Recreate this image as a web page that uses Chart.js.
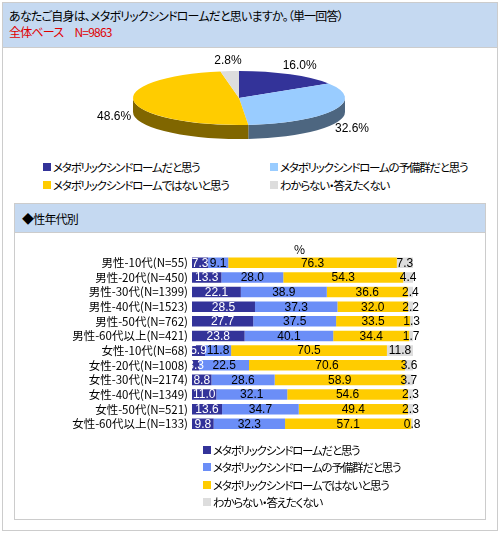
<!DOCTYPE html>
<html lang="ja">
<head>
<meta charset="utf-8">
<script src="https://cdn.jsdelivr.net/npm/chart.js@4.4.0/dist/chart.umd.min.js"></script>
<style>
  html, body { margin: 0; padding: 0; background: #fff; }
  body { width: 500px; height: 534px; position: relative; overflow: hidden;
         font-family: "Noto Sans CJK JP", sans-serif; font-size: 12px; color: #000;
         font-feature-settings: "palt"; }
  .abs { position: absolute; }
  .frame { left: 2px; top: 2px; width: 496px; height: 529px; border: 1px solid #ccc; box-sizing: border-box; }
  .band { background: #c5d9f1; border-bottom: 1px solid #ccc; box-sizing: border-box; }
  .txt { white-space: nowrap; line-height: 14px; }
  .head { letter-spacing: -0.8px; }
  .leg { font-size: 11.5px; letter-spacing: -1.2px; }
  .sq { width: 8px; height: 8px; }
</style>
</head>
<body>
<div class="abs frame"></div>
<div class="abs band" style="left:3px;top:3px;width:494px;height:45px;"></div>
<div class="abs txt head" id="title" style="left:9px;top:9px;"></div>
<div class="abs txt head" id="subtitle" style="left:9px;top:25px;color:#e00000;"></div>

<div id="pieLegend"></div>
<canvas id="pie" class="abs" width="400" height="212" style="left:39px;top:48px;"></canvas>

<div class="abs" style="left:14px;top:203px;width:472px;height:317px;border:1px solid #ccc;box-sizing:border-box;"></div>
<div class="abs band" style="left:15px;top:204px;width:470px;height:29px;"></div>
<div class="abs txt head" id="sectionTitle" style="left:22px;top:212px;"></div>
<div class="abs txt" style="left:294px;top:242px;">%</div>

<canvas id="bars" class="abs" width="470" height="206" style="left:15px;top:236px;"></canvas>
<div id="barLegend"></div>

<script>
// textos
const titleText = 'あなたご自身は、メタボリックシンドロームだと思いますか。（単一回答）';
const baseText = '全体ベース　N=9863';
const sectionText = '◆性年代別';

// dados do gráfico de pizza
const answerLabels = ['メタボリックシンドロームだと思う', 'メタボリックシンドロームの予備群だと思う', 'メタボリックシンドロームではないと思う', 'わからない・答えたくない'];
const pieValues = [16.0, 32.6, 48.6, 2.8];
const pieColors = ['#333399', '#99ccff', '#ffcc00', '#dddddd'];
const pieSideColors = ['#1c1c55', '#4d6680', '#806600', '#6f6f6f'];

// dados do gráfico de barras
const groups = ['男性-10代(N=55)', '男性-20代(N=450)', '男性-30代(N=1399)', '男性-40代(N=1523)', '男性-50代(N=762)', '男性-60代以上(N=421)',
                '女性-10代(N=68)', '女性-20代(N=1008)', '女性-30代(N=2174)', '女性-40代(N=1349)', '女性-50代(N=521)', '女性-60代以上(N=133)'];
const think = [7.3, 13.3, 22.1, 28.5, 27.7, 23.8, 5.9, 3.3, 8.8, 11.0, 13.6, 9.8];
const reserve = [9.1, 28.0, 38.9, 37.3, 37.5, 40.1, 11.8, 22.5, 28.6, 32.1, 34.7, 32.3];
const notThink = [76.3, 54.3, 36.6, 32.0, 33.5, 34.4, 70.5, 70.6, 58.9, 54.6, 49.4, 57.1];
const unknown = [7.3, 4.4, 2.4, 2.2, 1.3, 1.7, 11.8, 3.6, 3.7, 2.3, 2.3, 0.8];
const barColors = ['#333399', '#6b8ef7', '#ffcc00', '#dddddd'];
const barTextColors = ['#fff', '#000', '#000', '#000'];

document.getElementById('title').textContent = titleText;
document.getElementById('subtitle').textContent = baseText;
document.getElementById('sectionTitle').textContent = sectionText;

// legenda da pizza (2 colunas)
const pieLegend = document.getElementById('pieLegend');
answerLabels.forEach((label, i) => {
    const col = i % 2, row = Math.floor(i / 2);
    const x = col === 0 ? 43 : 270;
    const y = row === 0 ? 167 : 185;
    pieLegend.insertAdjacentHTML('beforeend',
        `<div class="abs sq" style="left:${x}px;top:${y - 4}px;background:${pieColors[i]}"></div>` +
        `<div class="abs txt leg" style="left:${x + 10}px;top:${y - 7}px;">${label}</div>`);
});

// legenda das barras
const barLegend = document.getElementById('barLegend');
answerLabels.forEach((label, i) => {
    const y = 450 + i * 17.4;
    barLegend.insertAdjacentHTML('beforeend',
        `<div class="abs sq" style="left:203px;top:${y - 4}px;background:${barColors[i]}"></div>` +
        `<div class="abs txt leg" style="left:213px;top:${y - 7}px;">${label}</div>`);
});

// pizza 3D: achata o círculo e desenha a lateral
const PIE_CY = 50, PIE_RY = 27, PIE_DEPTH = 14;
const pie3d = {
    id: 'pie3d',
    beforeDatasetsDraw(chart) {
        const arcs = chart.getDatasetMeta(0).data;
        const ctx = chart.ctx;
        const cx = arcs[0].x, cy = arcs[0].y, rx = arcs[0].outerRadius;
        // lateral (só a metade da frente)
        arcs.forEach((a, i) => {
            const s = Math.max(a.startAngle, 0), e = Math.min(a.endAngle, Math.PI);
            if (e <= s) return;
            ctx.beginPath();
            ctx.ellipse(cx, PIE_CY, rx, PIE_RY, 0, s, e);
            ctx.ellipse(cx, PIE_CY + PIE_DEPTH, rx, PIE_RY, 0, e, s, true);
            ctx.closePath();
            ctx.fillStyle = pieSideColors[i];
            ctx.fill();
        });
        ctx.save();
        ctx.translate(cx, PIE_CY);
        ctx.scale(1, PIE_RY / rx);
        ctx.translate(-cx, -cy);
    },
    afterDatasetsDraw(chart) {
        const ctx = chart.ctx;
        ctx.restore();
        const arcs = chart.getDatasetMeta(0).data;
        const cx = arcs[0].x, rx = arcs[0].outerRadius;
        ctx.save();
        ctx.font = '12px "Liberation Sans Narrow", "Liberation Sans", sans-serif';
        ctx.fillStyle = '#000';
        ctx.textAlign = 'center';
        ctx.textBaseline = 'middle';
        arcs.forEach((a, i) => {
            const mid = (a.startAngle + a.endAngle) / 2;
            const sn = Math.sin(mid);
            const x = cx + (rx + 20) * Math.cos(mid);
            const y = PIE_CY + (PIE_RY + 10) * sn + (sn > 0 ? PIE_DEPTH : 0);
            ctx.fillText(pieValues[i].toFixed(1) + '%', x, y);
        });
        ctx.restore();
    }
};

new Chart(document.getElementById('pie'), {
    type: 'pie',
    data: {
        labels: answerLabels,
        datasets: [{ data: pieValues, backgroundColor: pieColors, borderWidth: 0, hoverOffset: 0 }]
    },
    options: {
        responsive: false,
        animation: false,
        layout: { padding: 0 },
        plugins: { legend: { display: false }, tooltip: { enabled: false } }
    },
    plugins: [pie3d]
});

// rótulos dentro das barras
const barLabels = {
    id: 'barLabels',
    afterDatasetsDraw(chart) {
        const ctx = chart.ctx;
        ctx.save();
        ctx.font = '12px "Liberation Sans Narrow", "Liberation Sans", sans-serif';
        ctx.textAlign = 'center';
        ctx.textBaseline = 'middle';
        chart.data.datasets.forEach((ds, i) => {
            chart.getDatasetMeta(i).data.forEach((bar, j) => {
                ctx.fillStyle = barTextColors[i];
                ctx.fillText(ds.data[j].toFixed(1), (bar.x + bar.base) / 2, bar.y + 0.5);
            });
        });
        ctx.restore();
    }
};

const seriesData = [think, reserve, notThink, unknown];
new Chart(document.getElementById('bars'), {
    type: 'bar',
    data: {
        labels: groups,
        datasets: seriesData.map((d, i) => ({
            label: answerLabels[i],
            data: d,
            backgroundColor: barColors[i],
            barPercentage: 0.72,
            categoryPercentage: 1
        }))
    },
    options: {
        indexAxis: 'y',
        responsive: false,
        animation: false,
        layout: { padding: { top: 19.5, right: 72, bottom: 5.5, left: 0 } },
        scales: {
            x: { stacked: true, min: 0, max: 100, display: false },
            y: {
                stacked: true,
                grid: { display: false, drawTicks: false },
                border: { display: false },
                ticks: { color: '#000', padding: 4, autoSkip: false, font: { family: 'Noto Sans CJK JP', size: 11.5 } },
                afterFit(scale) { scale.width = 177; }
            }
        },
        plugins: { legend: { display: false }, tooltip: { enabled: false } }
    },
    plugins: [barLabels]
});
</script>
</body>
</html>
